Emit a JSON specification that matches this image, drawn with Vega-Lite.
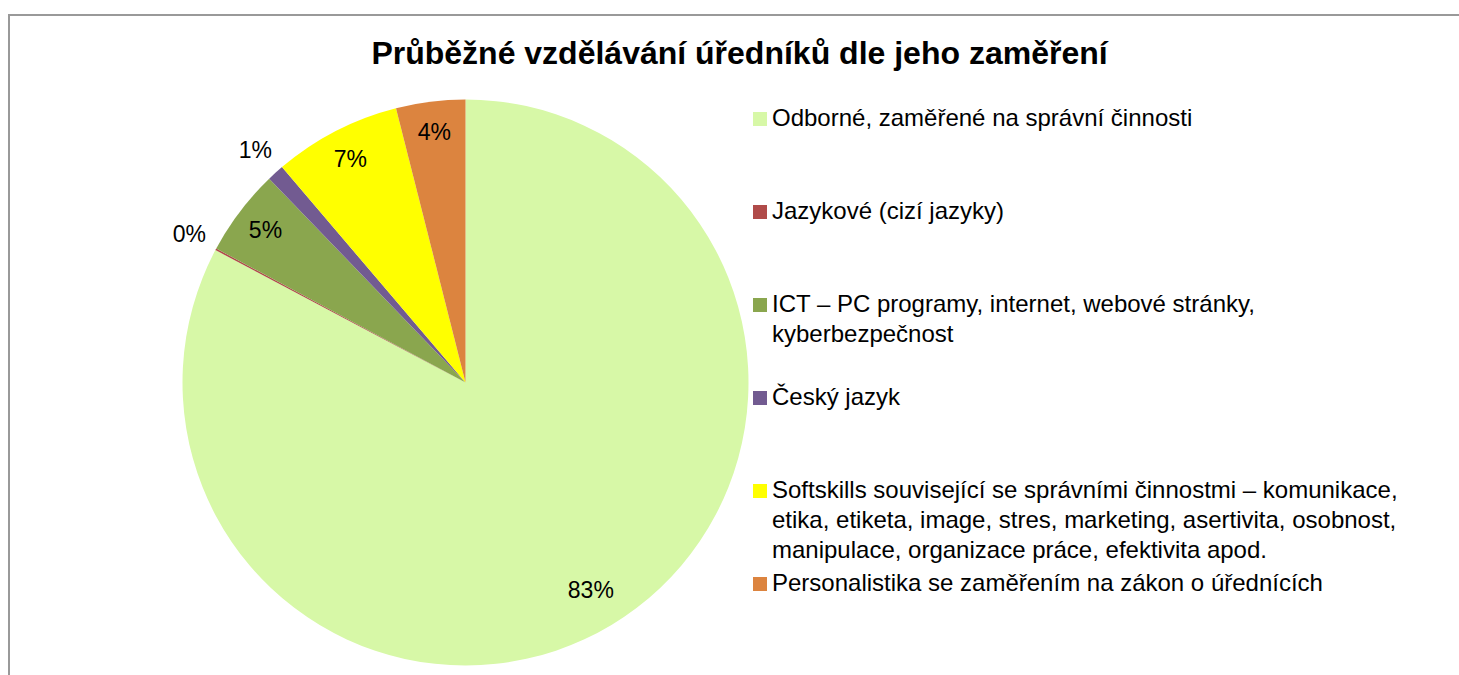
{
  "$schema": "https://vega.github.io/schema/vega-lite/v6.json",
  "autosize": {"type": "none"},
  "padding": {"left": 9, "top": 15, "right": -3, "bottom": -3},
  "width": 1453,
  "height": 663,
  "background": "white",
  "view": {"stroke": "#999999", "strokeWidth": 2},
  "title": {
    "text": "Průběžné vzdělávání úředníků dle jeho zaměření",
    "font": "Liberation Sans",
    "fontSize": 32,
    "fontWeight": "bold",
    "color": "black",
    "anchor": "middle",
    "frame": "group",
    "baseline": "alphabetic",
    "offset": -81,
    "dx": 4
  },
  "data": {
    "values": [
      {"zamereni": "Odborné, zaměřené na správní činnosti", "podil": 0.8275, "poradi": 1},
      {"zamereni": "Jazykové (cizí jazyky)", "podil": 0.001, "poradi": 2},
      {"zamereni": "ICT – PC programy, internet, webové stránky, kyberbezpečnost", "podil": 0.0495, "poradi": 3},
      {"zamereni": "Český jazyk", "podil": 0.0097, "poradi": 4},
      {"zamereni": "Softskills související se správními činnostmi –  komunikace, etika, etiketa, image, stres, marketing,  asertivita, osobnost, manipulace, organizace práce, efektivita apod.", "podil": 0.0728, "poradi": 5},
      {"zamereni": "Personalistika se zaměřením na zákon o úřednících", "podil": 0.0395, "poradi": 6}
    ]
  },
  "encoding": {
    "theta": {"field": "podil", "type": "quantitative", "stack": true},
    "order": {"field": "poradi", "type": "ordinal"},
    "color": {
      "field": "zamereni",
      "type": "nominal",
      "sort": null,
      "scale": {
        "domain": [
          "Odborné, zaměřené na správní činnosti",
          "Jazykové (cizí jazyky)",
          "ICT – PC programy, internet, webové stránky, kyberbezpečnost",
          "Český jazyk",
          "Softskills související se správními činnostmi –  komunikace, etika, etiketa, image, stres, marketing,  asertivita, osobnost, manipulace, organizace práce, efektivita apod.",
          "Personalistika se zaměřením na zákon o úřednících"
        ],
        "range": ["#D7F8A7", "#B04B49", "#8AA64E", "#725B91", "#FFFF00", "#DC843F"]
      },
      "legend": {
        "orient": "none",
        "legendX": 739,
        "legendY": 92,
        "direction": "vertical",
        "title": null,
        "padding": 0,
        "symbolType": "square",
        "symbolSize": 196,
        "symbolStrokeWidth": 0,
        "symbolOpacity": 1,
        "labelFont": "Liberation Sans",
        "labelFontSize": 24,
        "labelColor": "black",
        "labelLimit": 900,
        "labelOffset": 0,
        "rowPadding": 9,
        "gridAlign": "all",
        "labelExpr": "substring(datum.label, 0, 3) == 'ICT' ? ['ICT – PC programy, internet, webové stránky,', 'kyberbezpečnost'] : substring(datum.label, 0, 10) == 'Softskills' ? ['Softskills související se správními činnostmi –  komunikace,', 'etika, etiketa, image, stres, marketing,  asertivita, osobnost,', 'manipulace, organizace práce, efektivita apod.'] : datum.label"
      }
    }
  },
  "layer": [
    {"mark": {"type": "arc", "outerRadius": 283, "x": 456.5, "y": 367.5}},
    {
      "mark": {
        "type": "text",
        "x": 456.5,
        "y": 367.5,
        "font": "Liberation Sans",
        "fontSize": 23,
        "radius": {"expr": "datum.podil < 0.02 ? 313 : (datum.podil > 0.5 ? 243 : 251)"}
      },
      "encoding": {
        "color": {"value": "black"},
        "detail": {"field": "zamereni", "type": "nominal"},
        "text": {"field": "podil", "type": "quantitative", "format": ".0%"}
      }
    }
  ],
  "config": {
    "style": {"guide-label": {"lineHeight": 30}},
    "view": {"stroke": "#999999", "strokeWidth": 2}
  }
}
